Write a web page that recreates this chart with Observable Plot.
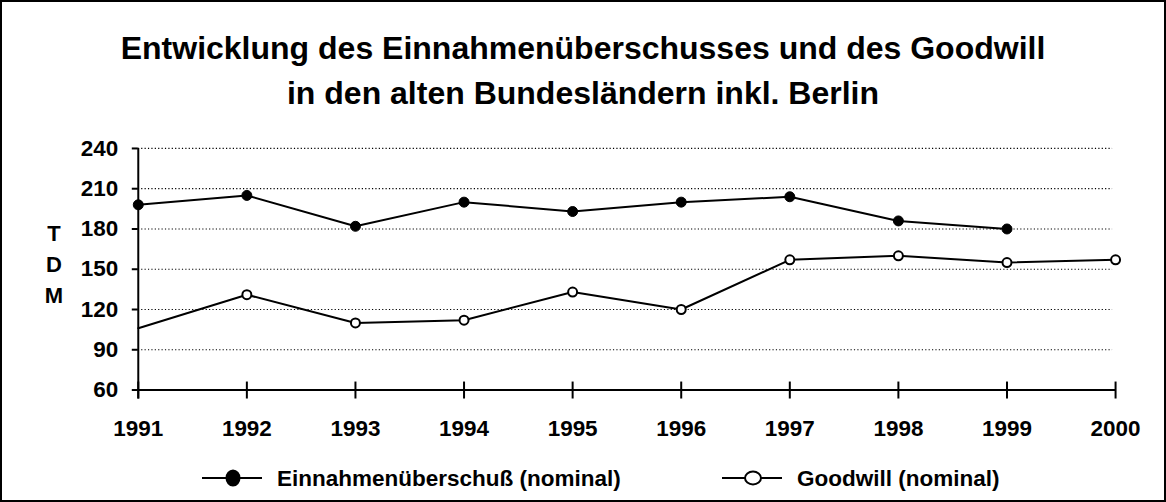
<!DOCTYPE html>
<html>
<head>
<meta charset="utf-8">
<script src="https://cdn.jsdelivr.net/npm/d3@7"></script>
<script src="https://cdn.jsdelivr.net/npm/@observablehq/plot@0.6"></script>
<style>
  html, body { margin: 0; padding: 0; background: #fff; }
  #frame { position: relative; width: 1166px; height: 502px; box-sizing: border-box; border: 2px solid #000; overflow: hidden;
    font-family: "Liberation Sans", Arial, sans-serif; font-weight: bold; color: #000; }
  #title { position: absolute; left: 0; right: 0; top: 24px; text-align: center; font-size: 32px; line-height: 45px; }
  #chart { position: absolute; left: -2px; top: 118px; }
  #ylabel { position: absolute; left: 40px; top: 216px; width: 24px; text-align: center; font-size: 22px; line-height: 31px; }
  #legend { position: absolute; left: -2px; top: 461px; width: 1166px; height: 32px; }
  #legend .item { position: absolute; top: 0; height: 32px; display: flex; align-items: center; font-size: 22.5px; }
  #legend svg { display: block; }
</style>
</head>
<body>
<div id="frame">
  <div id="title"></div>
  <div id="ylabel"></div>
  <div id="chart"></div>
  <div id="legend"></div>
</div>
<script>
// ---- data ----
const titleLines = ["Entwicklung des Einnahmenüberschusses und des Goodwill", "in den alten Bundesländern inkl. Berlin"];
const yAxisLabel = ["T", "D", "M"];
const years = [1991, 1992, 1993, 1994, 1995, 1996, 1997, 1998, 1999, 2000];
const einnahmen = [198, 205, 182, 200, 193, 200, 204, 186, 180, null];
const goodwill = [106, 131, 110, 112, 133, 120, 157, 160, 155, 157];
const goodwillMarked = [false, true, true, true, true, true, true, true, true, true];
const yTicks = [60, 90, 120, 150, 180, 210, 240];
const seriesNames = ["Einnahmenüberschuß (nominal)", "Goodwill (nominal)"];

// ---- tables ----
const einData = years.map((y, i) => ({year: y, value: einnahmen[i]})).filter(d => d.value != null);
const gwData = years.map((y, i) => ({year: y, value: goodwill[i], marked: goodwillMarked[i]}));

document.getElementById("title").innerHTML = titleLines.join("<br>");
document.getElementById("ylabel").innerHTML = yAxisLabel.join("<br>");

const font = "Liberation Sans, Arial, sans-serif";
const chart = Plot.plot({
  width: 1166,
  height: 332,
  marginTop: 28,
  marginBottom: 62,
  marginLeft: 138,
  marginRight: 49,
  style: {fontFamily: font, fontWeight: "bold", fontSize: "22.5px", color: "#000", background: "transparent", overflow: "visible"},
  x: {domain: [1991, 2000], type: "linear"},
  y: {domain: [60, 240]},
  marks: [
    // dotted grid lines
    Plot.ruleY(yTicks.filter(t => t > 60), {y: d => d, x1: 1991, x2: 2000, stroke: "#000", strokeWidth: 1.2, strokeDasharray: "1.2,2.2", insetRight: 3}),
    // y axis
    Plot.axisY({ticks: yTicks, tickSize: 6, tickPadding: 14, tickFormat: d => String(d), label: null, stroke: "#000", strokeWidth: 2, fontSize: 22.5, fontWeight: "bold"}),
    Plot.ruleX([years[0]], {x: d => d, y1: 240, y2: 60, insetBottom: -9, stroke: "#000", strokeWidth: 2}),
    // x axis
    Plot.ruleY([60], {y: d => d, x1: 1991, x2: 2000, stroke: "#000", strokeWidth: 2}),
    Plot.ruleX(years, {x: d => d, y1: 60, y2: 60, insetTop: -8, insetBottom: -9, stroke: "#000", strokeWidth: 2}),
    Plot.axisX({ticks: years, tickSize: 0, tickPadding: 30, tickFormat: d => String(d), label: null, fontSize: 22.5, fontWeight: "bold"}),
    // series
    Plot.line(einData, {x: "year", y: "value", stroke: "#000", strokeWidth: 2}),
    Plot.line(gwData, {x: "year", y: "value", stroke: "#000", strokeWidth: 2}),
    Plot.dot(einData, {x: "year", y: "value", r: 5, fill: "#000", stroke: "#000", strokeWidth: 1}),
    Plot.dot(gwData.filter(d => d.marked), {x: "year", y: "value", r: 4.5, fill: "#fff", stroke: "#000", strokeWidth: 2})
  ]
});
document.getElementById("chart").appendChild(chart);

// ---- legend ----
const legend = document.getElementById("legend");
const legendItems = [
  {name: seriesNames[0], left: 202, fill: "#000"},
  {name: seriesNames[1], left: 722, fill: "#fff"}
];
legendItems.forEach(item => {
  const div = document.createElement("div");
  div.className = "item";
  div.style.left = item.left + "px";
  div.innerHTML = `<svg width="60" height="32"><line x1="0" x2="60" y1="15" y2="15" stroke="#000" stroke-width="2"/>` +
    `<ellipse cx="31" cy="15" rx="${item.fill === "#000" ? 6.5 : 8}" ry="${item.fill === "#000" ? 7.5 : 6.5}" fill="${item.fill}" stroke="#000" stroke-width="2"/></svg>` +
    `<span style="margin-left:15px">${item.name}</span>`;
  legend.appendChild(div);
});
</script>
</body>
</html>
